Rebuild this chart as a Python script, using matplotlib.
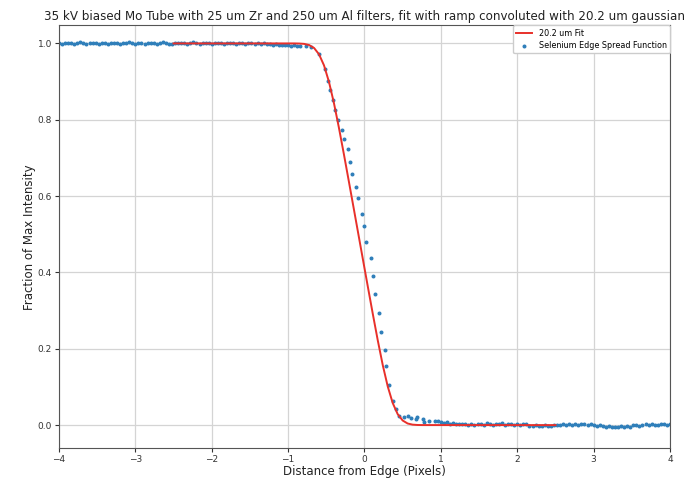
import numpy as np
import matplotlib
matplotlib.use("Agg")
import matplotlib.pyplot as plt

# Measured edge spread function (fraction of max intensity vs. distance from edge in pixels)
# Flat bright side, regularly binned
x_left = np.linspace(-4.00, -0.84, 80)
y_left = [
    1.000, 0.999, 1.001, 1.000, 1.002, 0.999, 1.000, 1.003, 1.001, 0.998,
    1.000, 1.002, 1.001, 0.999, 1.000, 1.001, 0.998, 1.000, 1.002, 1.000,
    0.999, 1.001, 1.000, 1.003, 1.000, 0.999, 1.001, 1.000, 0.998, 1.000,
    1.002, 1.001, 0.999, 1.000, 1.003, 1.001, 0.998, 0.999, 1.001, 1.000,
    1.002, 1.000, 0.999, 1.001, 1.003, 1.000, 0.999, 1.002, 1.001, 1.000,
    0.998, 1.001, 1.002, 1.000, 0.999, 1.001, 1.000, 1.002, 0.999, 1.000,
    1.001, 0.999, 1.000, 1.002, 0.998, 1.000, 0.999, 1.001, 0.998, 0.999,
    0.997, 0.998, 0.996, 0.997, 0.995, 0.996, 0.994, 0.995, 0.993, 0.994,
]

# Transition region
x_edge = [
    -0.772, -0.694, -0.598, -0.514, -0.480, -0.458, -0.415, -0.380, -0.349, -0.295,
    -0.262, -0.212, -0.187, -0.161, -0.109, -0.079, -0.030, 0.000, 0.022, 0.082,
    0.109, 0.140, 0.186, 0.219, 0.271, 0.285, 0.318, 0.370, 0.406, 0.458,
    0.520, 0.569, 0.611, 0.677, 0.694, 0.763, 0.779, 0.851, 0.925,
]
y_edge = [
    0.993, 0.990, 0.971, 0.932, 0.901, 0.879, 0.853, 0.825, 0.800, 0.774,
    0.750, 0.723, 0.689, 0.659, 0.623, 0.595, 0.553, 0.521, 0.479, 0.438,
    0.391, 0.343, 0.294, 0.244, 0.198, 0.154, 0.105, 0.063, 0.041, 0.025,
    0.021, 0.023, 0.018, 0.015, 0.020, 0.015, 0.009, 0.011, 0.011,
]

# Flat dark side
x_right = np.linspace(0.96, 4.00, 77)
y_right = [
    0.010, 0.008, 0.006, 0.007, 0.004, 0.005, 0.003, 0.004, 0.002, 0.004,
    0.001, 0.003, 0.000, 0.004, 0.002, 0.001, 0.005, 0.003, 0.000, 0.004,
    0.002, 0.005, 0.001, 0.003, 0.004, 0.000, 0.003, 0.001, 0.004, 0.002,
    -0.002, -0.003, -0.001, -0.003, -0.002, -0.001, -0.003, -0.002, 0.000, 0.001,
    -0.001, 0.002, 0.000, 0.003, 0.001, 0.004, 0.000, 0.002, 0.003, -0.001,
    0.002, 0.000, -0.002, 0.001, -0.003, -0.004, -0.002, -0.005, -0.004, -0.006,
    -0.003, -0.005, -0.002, -0.004, -0.001, 0.000, -0.002, 0.001, 0.002, 0.000,
    0.003, 0.001, 0.000, 0.002, 0.003, 0.001, 0.002,
]

# Ramp convolved with a 20.2 um gaussian, evaluated at these positions
x_fit = [
    -2.50, -0.92, -0.855, -0.79, -0.725, -0.66, -0.595, -0.53, -0.465, -0.40,
    -0.335, -0.27, -0.205, -0.14, -0.02, 0.045, 0.11, 0.175, 0.24, 0.305,
    0.37, 0.435, 0.50, 0.565, 0.63, 0.695, 0.76, 2.50,
]
y_fit = [
    1.000, 1.000, 0.9997, 0.9988, 0.9958, 0.9880, 0.9714, 0.9424, 0.8992, 0.8436,
    0.7792, 0.7100, 0.6387, 0.5667, 0.4333, 0.3613, 0.2900, 0.2208, 0.1564, 0.1008,
    0.0576, 0.0286, 0.0120, 0.0042, 0.0012, 0.0003, 0.0001, 0.000,
]

x_data = np.concatenate([x_left, x_edge, x_right])
y_data = np.concatenate([y_left, y_edge, y_right])

fig = plt.figure(figsize=(6.99, 4.79), dpi=100)
ax = fig.add_axes([0.0844, 0.0647, 0.8741, 0.8821])

ax.plot(x_fit, y_fit, color="#e8302a", lw=1.4, label="20.2 um Fit", zorder=3)
ax.scatter(x_data, y_data, s=3.5, color="#2f7fba", label="Selenium Edge Spread Function", zorder=2)

ax.set_xlim(-4, 4)
ax.set_ylim(-0.06, 1.047)
ax.set_xticks(np.arange(-4, 5, 1))
ax.set_yticks([0.0, 0.2, 0.4, 0.6, 0.8, 1.0])
ax.grid(True, color="#d4d4d4", lw=0.9)
ax.set_axisbelow(True)
ax.tick_params(labelsize=6.5, colors="#333333", length=3, pad=2)
for sp in ax.spines.values():
    sp.set_color("#555555")

ax.set_xlabel("Distance from Edge (Pixels)", fontsize=8.5, color="#222222", labelpad=1)
ax.set_ylabel("Fraction of Max Intensity", fontsize=8.5, color="#222222", labelpad=1)
ax.set_title("35 kV biased Mo Tube with 25 um Zr and 250 um Al filters, fit with ramp convoluted with 20.2 um gaussian",
             fontsize=8.6, color="#222222", pad=4)

ax.legend(loc="upper right", fontsize=5.8, scatterpoints=1, framealpha=1.0,
          edgecolor="#cccccc", borderaxespad=0.0, handlelength=2.0, labelspacing=0.4)

fig.savefig("out.png", dpi=100)
